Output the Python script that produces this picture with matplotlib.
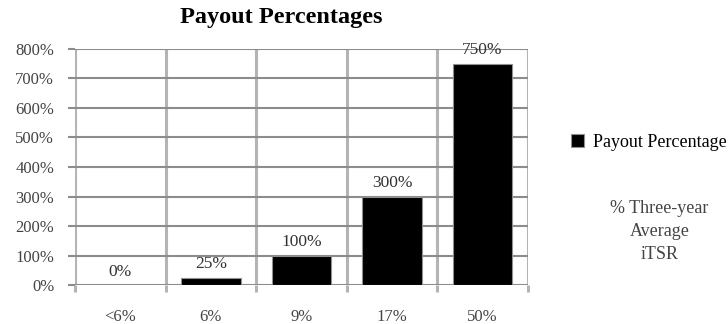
import numpy as np
import matplotlib.pyplot as plt

plt.rcParams['font.family'] = ['Liberation Serif', 'DejaVu Serif']

categories = ['<6%', '6%', '9%', '17%', '50%']
payout = [0, 25, 100, 300, 750]
yticks = [0, 100, 200, 300, 400, 500, 600, 700, 800]

fig = plt.figure(figsize=(7.28, 3.24), dpi=100)
ax = fig.add_axes([0.103, 0.12, 0.622, 0.729])

x = np.arange(len(categories))
bars = ax.bar(x, payout, width=0.66, color='black', edgecolor='#909090',
              linewidth=0.8, label='Payout Percentage', zorder=3)

for xi, v in zip(x, payout):
    ax.text(xi, v + 18, f'{v}%', ha='center', va='bottom', fontsize=12.5, color='#333333')

ax.set_xlim(-0.5, 4.5)
ax.set_ylim(0, 800)
ax.set_yticks(yticks)
ax.set_yticklabels([f'{t}%' for t in yticks], fontsize=12, color='#444444')
ax.set_xticks(x)
ax.set_xticklabels(categories, fontsize=12, color='#444444')
ax.tick_params(axis='x', which='major', length=0, pad=17)
ax.set_xticks(np.arange(-0.5, 5, 1), minor=True)
ax.tick_params(axis='x', which='minor', length=5, width=2.2, color='#b4b4b4')
ax.tick_params(axis='y', length=5, width=1.5, color='#8c8c8c', pad=10)

ax.grid(axis='y', color='#8c8c8c', linewidth=1.5, zorder=0)
ax.grid(axis='x', which='minor', color='#b4b4b4', linewidth=2.2, zorder=0)
ax.set_axisbelow(True)
for s in ax.spines.values():
    s.set_visible(False)

fig.text(0.386, 0.945, 'Payout Percentages', ha='center', va='center',
         fontsize=17.5, fontweight='bold')

fig.legend(handles=[bars], loc='center left', bbox_to_anchor=(0.785, 0.56),
           frameon=False, fontsize=13, handlelength=0.7, handleheight=0.7,
           handletextpad=0.5, borderaxespad=0, borderpad=0)
fig.text(0.906, 0.285, '% Three-year\nAverage\niTSR', ha='center', va='center',
         fontsize=13, color='#444444', linespacing=1.45)

fig.savefig('out.png', dpi=100)
